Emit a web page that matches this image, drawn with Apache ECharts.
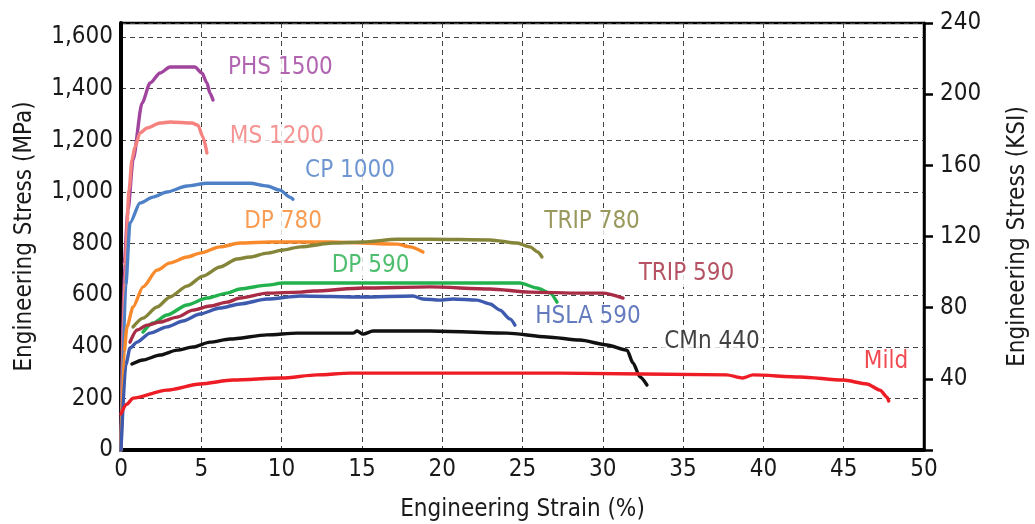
<!DOCTYPE html>
<html>
<head>
<meta charset="utf-8">
<script src="https://cdn.jsdelivr.net/npm/echarts@6/dist/echarts.min.js"></script>
<style>
  html, body { margin: 0; padding: 0; background: #fff; }
  #chart { width: 1035px; height: 524px; }
</style>
</head>
<body>
<div id="chart"></div>
<script>
// Engineering stress-strain curves: [strain %, stress MPa]
const phs1500 = [[0,0],[0.19,717],[0.44,930],[0.75,1124],[1.31,1344],[1.81,1422],[2.43,1461],[3.05,1484],[4.6,1484],[5.04,1461],[5.35,1422],[5.54,1383],[5.73,1356]];
const ms1200 = [[0,0],[0.25,709],[0.5,1007],[0.68,1124],[0.87,1174],[1.18,1228],[1.62,1248],[2.43,1267],[3.05,1271],[4.42,1267],[4.79,1259],[5.1,1213],[5.35,1151]];
const cp1000 = [[0,0],[0.3,640],[0.56,880],[1.18,957],[1.99,980],[2.86,1000],[4.11,1023],[5.35,1034],[6.97,1034],[8.03,1034],[9.09,1023],[9.9,1007],[10.52,980],[10.71,972]];
const dp780 = [[0,0],[0.2,380],[0.37,477],[0.75,554],[1.37,632],[2.24,697],[3.05,725],[4.11,748],[4.92,763],[6.16,787],[7.41,802],[9.28,806],[13.0,806],[17.2,798],[18.0,787],[18.8,767]];
const trip780 = [[0.75,477],[1.37,511],[2.24,554],[3.05,593],[4.11,635],[5.1,674],[6.16,709],[7.22,740],[8.03,748],[9.09,763],[10.09,775],[11.15,787],[13.2,802],[15.07,806],[17.19,817],[19.24,817],[22.98,814],[24.66,802],[25.47,787],[25.97,767],[26.21,748]];
const dp590 = [[1.37,457],[1.99,492],[2.86,523],[4.11,562],[5.35,589],[6.6,608],[7.41,624],[9.09,639],[10.09,647],[12.58,647],[19.24,647],[24.84,647],[25.9,628],[26.71,608],[27.15,573]];
const trip590 = [[0.56,418],[1.0,465],[1.62,484],[2.43,496],[3.49,515],[4.48,542],[5.54,558],[6.6,573],[7.41,589],[9.09,608],[11.15,612],[11.96,616],[15.07,628],[19.24,632],[22.98,624],[25.47,612],[28.58,608],[30.01,608],[31.26,589]];
const hsla590 = [[0,0],[0.3,330],[0.56,395],[1.0,418],[1.81,453],[2.86,477],[3.86,500],[4.92,527],[6.16,550],[7.41,566],[9.09,585],[11.15,597],[15.07,593],[18.18,597],[18.8,585],[19.86,581],[20.67,585],[22.17,581],[22.98,566],[23.6,542],[24.22,508],[24.53,484]];
const cmn440 = [[0.68,333],[1.37,349],[2.43,368],[3.49,387],[4.48,399],[5.54,418],[6.79,430],[9.09,446],[10.96,453],[14.45,453],[14.7,461],[15.07,449],[15.69,461],[19.24,461],[24.03,453],[26.53,438],[28.58,426],[30.26,407],[31.51,387],[31.88,337],[32.32,283],[32.75,252]];
const mild = [[0,140],[0.37,178],[0.75,201],[2.86,232],[4.92,256],[6.97,271],[10.02,279],[12.2,291],[14.26,298],[21.1,298],[27.3,298],[37.7,291],[38.7,279],[39.35,291],[42.3,283],[44.96,271],[46.45,256],[47.26,232],[47.7,205],[47.8,190]];

const gradeNames = ['PHS 1500','MS 1200','CP 1000','DP 780','TRIP 780','DP 590','TRIP 590','HSLA 590','CMn 440','Mild'];
const gradeCurves = [phs1500, ms1200, cp1000, dp780, trip780, dp590, trip590, hsla590, cmn440, mild];

// Axis ticks
const mpaTicks = [0,200,400,600,800,1000,1200,1400,1600];
const ksiTicks = [40,80,120,160,200,240];
const strainTicks = [0,5,10,15,20,25,30,35,40,45,50];

// Styling and label placement (strain %, MPa)
const KSI_TO_MPA = 6.894757;
const colors = ['#A0449E','#F5827E','#4E80C8','#F98A2C','#85853A','#22B14C','#A82C46','#3D5AAE','#111111','#EE1C24'];
const labelColors = ['#9E3F9C','#F27A78','#4A7CC4','#F7842A','#808034','#22AE4A','#A3283F','#3D5AAE','#111111','#EE1C24'];
const labelAnchors = [[9.93,1480],[9.71,1213],[14.26,1081],[10.09,883],[29.33,883],[15.54,713],[35.21,682],[29.08,515],[36.8,418],[47.63,341]];

const FONT = "'Liberation Sans Narrow', 'Arial Narrow', 'DejaVu Sans Condensed', sans-serif";
const FS = 24;
const gridLine = { show: true, lineStyle: { color: '#444', width: 1, type: [5, 4] } };

const chart = echarts.init(document.getElementById('chart'), null, { renderer: 'canvas' });

const series = gradeCurves.map((curve, i) => ({
  name: gradeNames[i],
  type: 'line',
  data: curve,
  yAxisIndex: 0,
  showSymbol: false,
  symbol: 'none',
  smooth: 0.25,
  smoothMonotone: 'x',
  lineStyle: { color: colors[i], width: 3.4, cap: 'round', join: 'round' },
  z: 3,
  silent: true
}));

series.push({
  name: 'labels',
  type: 'scatter',
  yAxisIndex: 0,
  symbolSize: 0,
  z: 10,
  silent: true,
  data: gradeNames.map((n, i) => ({
    name: n,
    value: labelAnchors[i],
    label: {
      show: true,
      position: 'inside',
      formatter: n,
      color: labelColors[i],
      fontFamily: FONT,
      fontSize: FS,
      backgroundColor: '#fff',
      padding: [1, 3]
    }
  }))
});

chart.setOption({
  animation: false,
  backgroundColor: '#fff',
  grid: {
    left: 121, right: 111, top: 23, bottom: 74,
    outerBoundsMode: 'none',
    containLabel: false,
    show: true, borderColor: '#000', borderWidth: 2.5, backgroundColor: 'transparent'
  },
  xAxis: {
    type: 'value',
    min: strainTicks[0],
    max: strainTicks[strainTicks.length - 1],
    interval: strainTicks[1] - strainTicks[0],
    name: 'Engineering Strain (%)',
    nameLocation: 'middle',
    nameGap: 48,
    nameTextStyle: { fontFamily: FONT, fontSize: FS, color: '#1a1a1a' },
    axisLine: { show: true, onZero: false, lineStyle: { color: '#000', width: 4 } },
    axisTick: { show: false },
    axisLabel: { fontFamily: FONT, fontSize: FS, color: '#1a1a1a', margin: 8 },
    splitLine: gridLine
  },
  yAxis: [
    {
      type: 'value',
      min: 0,
      max: 240 * KSI_TO_MPA,
      interval: mpaTicks[1] - mpaTicks[0],
      name: 'Engineering Stress (MPa)',
      nameLocation: 'middle',
      nameGap: 84,
      nameTextStyle: { fontFamily: FONT, fontSize: FS, color: '#1a1a1a' },
      axisLine: { show: true, onZero: false, lineStyle: { color: '#000', width: 4 } },
      axisTick: { show: false },
      axisLabel: {
        fontFamily: FONT, fontSize: FS, color: '#1a1a1a', margin: 8,
        formatter: v => (mpaTicks.indexOf(Math.round(v)) >= 0 ? Math.round(v).toLocaleString('en-US') : '')
      },
      splitLine: gridLine
    },
    {
      type: 'value',
      position: 'right',
      min: 0,
      max: ksiTicks[ksiTicks.length - 1],
      interval: ksiTicks[1] - ksiTicks[0],
      name: 'Engineering Stress (KSI)',
      nameLocation: 'middle',
      nameGap: 82,
      nameRotate: 90,
      nameTextStyle: { fontFamily: FONT, fontSize: FS, color: '#1a1a1a' },
      axisLine: { show: true, onZero: false, lineStyle: { color: '#000', width: 2.5 } },
      axisTick: { show: true, inside: false, length: 9, lineStyle: { color: '#000', width: 2.5 } },
      axisLabel: {
        fontFamily: FONT, fontSize: FS, color: '#1a1a1a', margin: 16,
        formatter: v => (ksiTicks.indexOf(v) >= 0 ? String(v) : '')
      },
      splitLine: { show: false }
    }
  ],
  series: series
});
</script>
</body>
</html>
